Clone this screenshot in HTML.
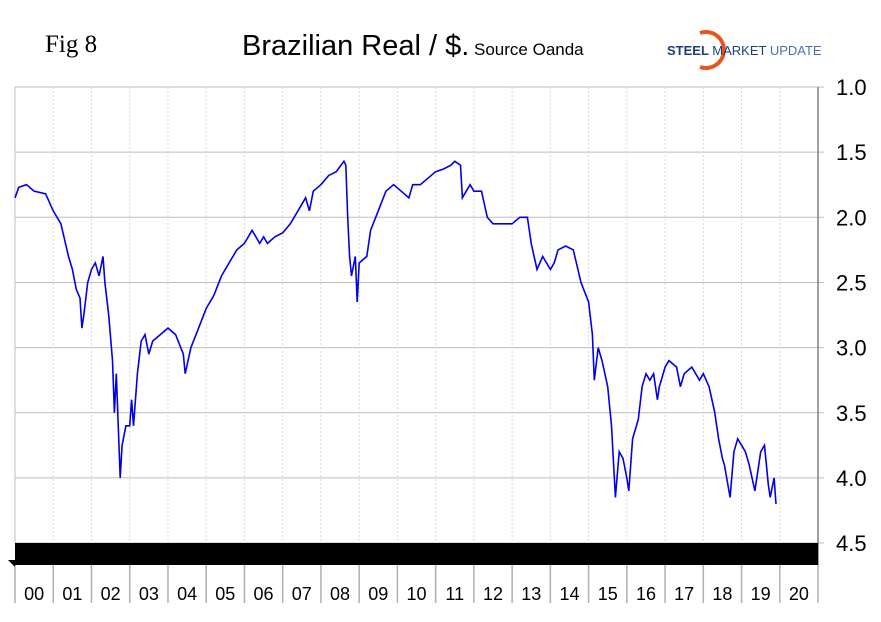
<!DOCTYPE html>
<html><head><meta charset="utf-8"><style>
html,body{margin:0;padding:0;background:#fff;width:881px;height:622px;overflow:hidden}
svg{display:block}
</style></head><body>
<svg id="chart" width="881" height="622" font-family="Liberation Sans, sans-serif">
<text x="45" y="52" font-family="Liberation Serif, serif" font-size="25">Fig 8</text>
<text x="242" y="55" font-size="29">Brazilian Real / $.<tspan font-size="17"> Source Oanda</tspan></text>
<g>
<path d="M700,33 A18,18 0 1,1 700,67" fill="none" stroke="#e8541c" stroke-width="4"/>
<text x="667" y="55" font-size="13" font-weight="bold" fill="#1d3f7a">STEEL <tspan font-weight="normal">MARKET</tspan><tspan font-weight="normal" fill="#4a6fae"> UPDATE</tspan></text>
</g>
<g id="grid"></g>
<g id="axes"></g>
<polyline id="line" fill="none" stroke="#0000ee" stroke-width="1.6"/>
</svg>
<script>
const yTicks=[1.0,1.5,2.0,2.5,3.0,3.5,4.0,4.5];
const yearLabels=["00","01","02","03","04","05","06","07","08","09","10","11","12","13","14","15","16","17","18","19","20"];
const times=[2000.0,2000.1,2000.3,2000.5,2000.8,2001.0,2001.2,2001.4,2001.5,2001.6,2001.7,2001.75,2001.8,2001.9,2002.0,2002.1,2002.2,2002.3,2002.35,2002.45,2002.55,2002.6,2002.65,2002.75,2002.8,2002.9,2003.0,2003.05,2003.1,2003.2,2003.3,2003.4,2003.5,2003.6,2003.8,2004.0,2004.2,2004.4,2004.45,2004.6,2004.8,2005.0,2005.2,2005.4,2005.6,2005.8,2006.0,2006.2,2006.4,2006.5,2006.6,2006.8,2007.0,2007.2,2007.4,2007.6,2007.7,2007.8,2008.0,2008.2,2008.4,2008.6,2008.65,2008.7,2008.75,2008.8,2008.9,2008.95,2009.0,2009.2,2009.3,2009.5,2009.7,2009.9,2010.1,2010.3,2010.4,2010.6,2010.8,2011.0,2011.2,2011.4,2011.5,2011.65,2011.7,2011.8,2011.9,2012.0,2012.2,2012.35,2012.5,2012.8,2013.0,2013.2,2013.4,2013.5,2013.65,2013.8,2013.9,2014.0,2014.1,2014.2,2014.4,2014.6,2014.8,2015.0,2015.1,2015.15,2015.25,2015.35,2015.5,2015.6,2015.7,2015.8,2015.9,2016.0,2016.05,2016.15,2016.3,2016.4,2016.5,2016.6,2016.7,2016.8,2016.85,2016.9,2017.0,2017.1,2017.3,2017.4,2017.5,2017.7,2017.9,2018.0,2018.15,2018.3,2018.4,2018.5,2018.55,2018.7,2018.8,2018.9,2019.0,2019.1,2019.2,2019.35,2019.5,2019.6,2019.7,2019.75,2019.85,2019.9];
const values=[1.85,1.77,1.75,1.80,1.82,1.95,2.05,2.30,2.40,2.55,2.62,2.85,2.75,2.50,2.40,2.35,2.45,2.30,2.50,2.75,3.10,3.50,3.20,4.00,3.75,3.60,3.60,3.40,3.60,3.20,2.95,2.90,3.05,2.95,2.90,2.85,2.90,3.05,3.20,3.00,2.85,2.70,2.60,2.45,2.35,2.25,2.20,2.10,2.20,2.15,2.20,2.15,2.12,2.05,1.95,1.85,1.95,1.80,1.75,1.68,1.65,1.57,1.60,2.00,2.30,2.45,2.30,2.65,2.35,2.30,2.10,1.95,1.80,1.75,1.80,1.85,1.75,1.75,1.70,1.65,1.63,1.60,1.57,1.60,1.85,1.80,1.75,1.80,1.80,2.00,2.05,2.05,2.05,2.00,2.00,2.20,2.40,2.30,2.35,2.40,2.35,2.25,2.22,2.25,2.50,2.65,2.90,3.25,3.00,3.10,3.30,3.60,4.15,3.80,3.85,4.00,4.10,3.70,3.55,3.30,3.20,3.25,3.20,3.40,3.30,3.25,3.15,3.10,3.15,3.30,3.20,3.15,3.25,3.20,3.30,3.50,3.70,3.85,3.90,4.15,3.80,3.70,3.75,3.80,3.90,4.10,3.80,3.75,4.05,4.15,4.00,4.20];
const X0=15,YW=38.24,Y0=87,PPU=130.3,R=818;
const xs=t=>X0+(t-2000)*YW, ys=v=>Y0+(v-1)*PPU;
const NS="http://www.w3.org/2000/svg";
const grid=document.getElementById('grid'),axes=document.getElementById('axes');
function mk(tag,attrs,parent){const e=document.createElementNS(NS,tag);for(const k in attrs)e.setAttribute(k,attrs[k]);parent.appendChild(e);return e;}
yTicks.forEach(v=>{
 const y=ys(v);
 const l=mk('line',{x1:X0,x2:R+6,y1:y,y2:y,stroke:'#bdbdbd','stroke-width':1},grid);
 
 
 const t=mk('text',{x:836,y:y+8,'font-size':22},axes);
 t.textContent=v.toFixed(1);
 
 
});
yearLabels.forEach((lab,i)=>{
 const x=X0+i*YW;
 if(i>0){const g=mk('line',{x1:x,x2:x,y1:Y0,y2:ys(4.5),stroke:'#d8d8d8','stroke-width':1,'stroke-dasharray':'2,2'},grid);
 
 }
 const d=mk('line',{x1:x,x2:x,y1:565,y2:603,stroke:'#b0b0b0','stroke-width':1.5},axes);
 
 
 const t=mk('text',{x:x+YW/2,y:600,'font-size':18,'text-anchor':'middle'},axes);
 t.textContent=lab;
 
 
});
const lastDiv=mk('line',{x1:R,x2:R,y1:565,y2:603,stroke:'#b0b0b0','stroke-width':1.5},axes);


const la=mk('line',{x1:X0,x2:X0,y1:Y0,y2:ys(4.5),stroke:'#c0c0c0','stroke-width':1},axes);


const ra=mk('line',{x1:R,x2:R,y1:Y0,y2:565,stroke:'#808080','stroke-width':1.5},axes);


const band=mk('path',{d:`M${X0},${ys(4.5)} L${R},${ys(4.5)} L${R},565 L${X0},565 L${X0},567 L8,560 L${X0},560 Z`,fill:'#000'},axes);


document.getElementById('line').setAttribute('points',times.map((t,i)=>xs(t).toFixed(1)+','+ys(values[i]).toFixed(1)).join(' '));
</script>
</body></html>
